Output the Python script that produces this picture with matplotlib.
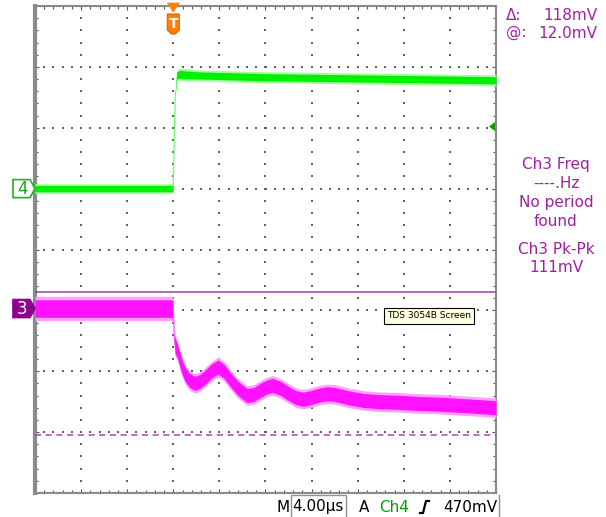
import matplotlib
matplotlib.use('Agg')
import matplotlib.pyplot as plt
from matplotlib.patches import Polygon, Rectangle
import numpy as np

# screen data: time in us, vertical position in divisions
t_min, t_max = -12.0, 28.0
us_per_div = 4.0

# ch4 (green) step
ch4_t = [-12, -6, -0.05, 0.0, 0.1, 0.18, 0.3, 0.6, 1.0, 2.0, 4.0, 8.0, 12.0, 16.0, 20.0, 24.0, 28.0]
ch4_mid = [1.00, 1.00, 1.00, 1.05, 2.0, 2.6, 2.86, 2.88, 2.87, 2.86, 2.85, 2.83, 2.82, 2.81, 2.80, 2.79, 2.78]
ch4_half = [0.08, 0.08, 0.08, 0.03, 0.03, 0.05, 0.09, 0.10, 0.10, 0.09, 0.09, 0.09, 0.09, 0.09, 0.09, 0.09, 0.09]

# ch3 (magenta) response
ch3_t = [-12, -6, -0.05, 0.0, 0.08, 0.15, 0.35, 0.58, 0.8, 1.02, 1.4, 1.88, 2.3, 2.75, 3.3, 3.88,
         4.4, 4.92, 5.6, 6.4, 7.0, 7.5, 8.1, 8.6, 9.3, 9.95, 10.6, 11.25, 12.0, 12.7, 13.4, 14.0,
         15.3, 16.5, 17.9, 19.5, 21.4, 23.0, 24.8, 26.5, 28.0]
ch3_mid = [-0.97, -0.97, -0.97, -1.0, -1.45, -1.58, -1.66, -1.82, -1.95, -2.05, -2.15, -2.20, -2.17,
           -2.10, -2.00, -1.93, -2.00, -2.13, -2.28, -2.40, -2.38, -2.32, -2.26, -2.23, -2.28, -2.36,
           -2.43, -2.46, -2.43, -2.39, -2.37, -2.38, -2.44, -2.48, -2.50, -2.51, -2.53, -2.54, -2.56,
           -2.58, -2.60]
ch3_half = [0.20, 0.20, 0.20, 0.05, 0.12, 0.18] + [0.16] * 35

ch4_pos = 1.0
ch3_pos = -0.97
trig_level = 2.02
cursor_a = -0.70
cursor_b = -3.05

purple = '#A020A0'
W, H = 606, 517

fig = plt.figure(figsize=(W / 100, H / 100), dpi=100)
ax = fig.add_axes([35 / W, (H - 493) / H, 461 / W, 487 / H])
ax.set_xlim(t_min, t_max)
ax.set_ylim(-4, 4)

# graticule dots
xg = np.arange(t_min + us_per_div, t_max, us_per_div)
yg = np.arange(-3, 4, 1)
dots_x, dots_y = [], []
for x in xg:
    for y in np.arange(-4, 4.01, 0.2):
        dots_x.append(x); dots_y.append(y)
for y in yg:
    for x in np.arange(t_min, t_max + 0.01, us_per_div / 5):
        dots_x.append(x); dots_y.append(y)
ax.scatter(dots_x, dots_y, s=1.6, marker='s', color='#606060', linewidths=0, zorder=1)

ax.set_xticks(np.arange(t_min, t_max + 0.01, us_per_div))
ax.set_xticks(np.arange(t_min, t_max + 0.01, us_per_div / 5), minor=True)
ax.set_yticks(np.arange(-4, 4.01, 1))
ax.set_yticks(np.arange(-4, 4.01, 0.2), minor=True)
ax.tick_params(which='both', direction='in', top=True, right=True, labelbottom=False, labelleft=False,
               color='#505050', width=0.8)
ax.tick_params(which='major', length=3)
ax.tick_params(which='minor', length=2)
for s in ax.spines.values():
    s.set_color('#8a8a8a')
    s.set_linewidth(1.5)
ax.spines['left'].set_linewidth(3)

# traces
t4 = np.array(ch4_t); m4 = np.array(ch4_mid); h4 = np.array(ch4_half)
ax.fill_between(t4, m4 - h4, m4 + h4, color='#9cff9c', lw=0, zorder=3)
ax.fill_between(t4, m4 - h4 * 0.65, m4 + h4 * 0.65, color='#00f000', lw=0, zorder=3)
ax.plot(t4[2:6], m4[2:6], color='#60ff60', lw=0.8, zorder=3)

t3 = np.array(ch3_t); m3 = np.array(ch3_mid); h3 = np.array(ch3_half)
ax.fill_between(t3, m3 - h3, m3 + h3, color='#ffa0ff', lw=0, zorder=3)
ax.fill_between(t3, m3 - h3 * 0.72, m3 + h3 * 0.72, color='#ff10ff', lw=0, zorder=3)
ax.plot(t3[2:6], m3[2:6], color='#ff60ff', lw=0.8, zorder=3)

# cursors
ax.axhline(cursor_a, color='#a040a0', lw=1.1, zorder=4)
ax.axhline(cursor_b, color='#b040b0', lw=1.1, ls=(0, (4, 3)), zorder=4)

# overlay in pixel coords (y from top)
ov = fig.add_axes([0, 0, 1, 1], zorder=5)
ov.set_xlim(0, W)
ov.set_ylim(H, 0)
ov.axis('off')
ov.patch.set_alpha(0)


def px(t, v):
    dx, dy = ax.transData.transform((t, v))
    return dx, H - dy


# channel markers
for pos, edge, face, tc, label in [(ch4_pos, '#20b020', 'white', '#20a020', '4'),
                                   (ch3_pos, '#900090', '#900090', 'white', '3')]:
    _, cy = px(0, pos)
    ov.add_patch(Polygon([(13, cy - 9), (30, cy - 9), (35, cy), (30, cy + 9), (13, cy + 9)],
                         closed=True, fc=face, ec=edge, lw=1.2))
    ov.text(22, cy + 0.5, label, color=tc, fontsize=12, ha='center', va='center')

# trigger marker
tx, _ = px(0, 0)
ov.add_patch(Polygon([(tx - 6, 3), (tx + 6, 3), (tx, 12)], closed=True, fc='#ff8000', ec='#ff8000',
                     lw=0.5, zorder=6))
ov.add_patch(Polygon([(tx - 6, 14), (tx + 6, 14), (tx + 6, 30), (tx + 2, 34), (tx - 2, 34), (tx - 6, 30)],
                     closed=True, fc='#ff8000', ec='#e06000', lw=0.8))
ov.text(tx, 24, 'T', color='white', fontsize=10, fontweight='bold', ha='center', va='center')

# trigger level arrow on right edge
_, ty = px(t_max, trig_level)
ov.add_patch(Polygon([(489, ty), (495, ty - 4.5), (495, ty + 4.5)], closed=True, fc='#00a000', ec='none'))

# right readouts
fs = 11
ov.text(506, 15, '\u0394:', color=purple, fontsize=fs, va='center')
ov.text(597, 15, '118mV', color=purple, fontsize=fs, va='center', ha='right')
ov.text(506, 33, '@:', color=purple, fontsize=fs, va='center')
ov.text(597, 33, '12.0mV', color=purple, fontsize=fs, va='center', ha='right')
for y, s in [(164, 'Ch3 Freq'), (183, '----.Hz'), (202, 'No period'), (221, 'found'),
             (249, 'Ch3 Pk-Pk'), (267, '111mV')]:
    ov.text(556, y, s, color=purple, fontsize=fs, va='center', ha='center')

# bottom readouts
ov.text(283, 507, 'M', fontsize=fs, va='center', ha='center')
ov.add_patch(Rectangle((291, 495), 55, 24, fill=False, ec='#909090', lw=1))
ov.text(318, 507, '4.00\u00b5s', fontsize=fs, va='center', ha='center')
ov.text(364, 507, 'A', fontsize=fs, va='center', ha='center')
ov.text(394, 507, 'Ch4', color='#00a000', fontsize=fs, va='center', ha='center')
ov.plot([420, 423, 426, 429], [513, 513, 501, 501], color='black', lw=1.6)
ov.text(497, 507, '470mV', fontsize=fs, va='center', ha='right')
ov.plot([499, 499], [495, 517], color='#909090', lw=1)

# screen label
ov.text(429, 316, 'TDS 3054B Screen', fontsize=6.5, ha='center', va='center',
        bbox=dict(boxstyle='square,pad=0.35', fc='#ffffe1', ec='black', lw=0.8))

fig.savefig('out.png', dpi=100)
